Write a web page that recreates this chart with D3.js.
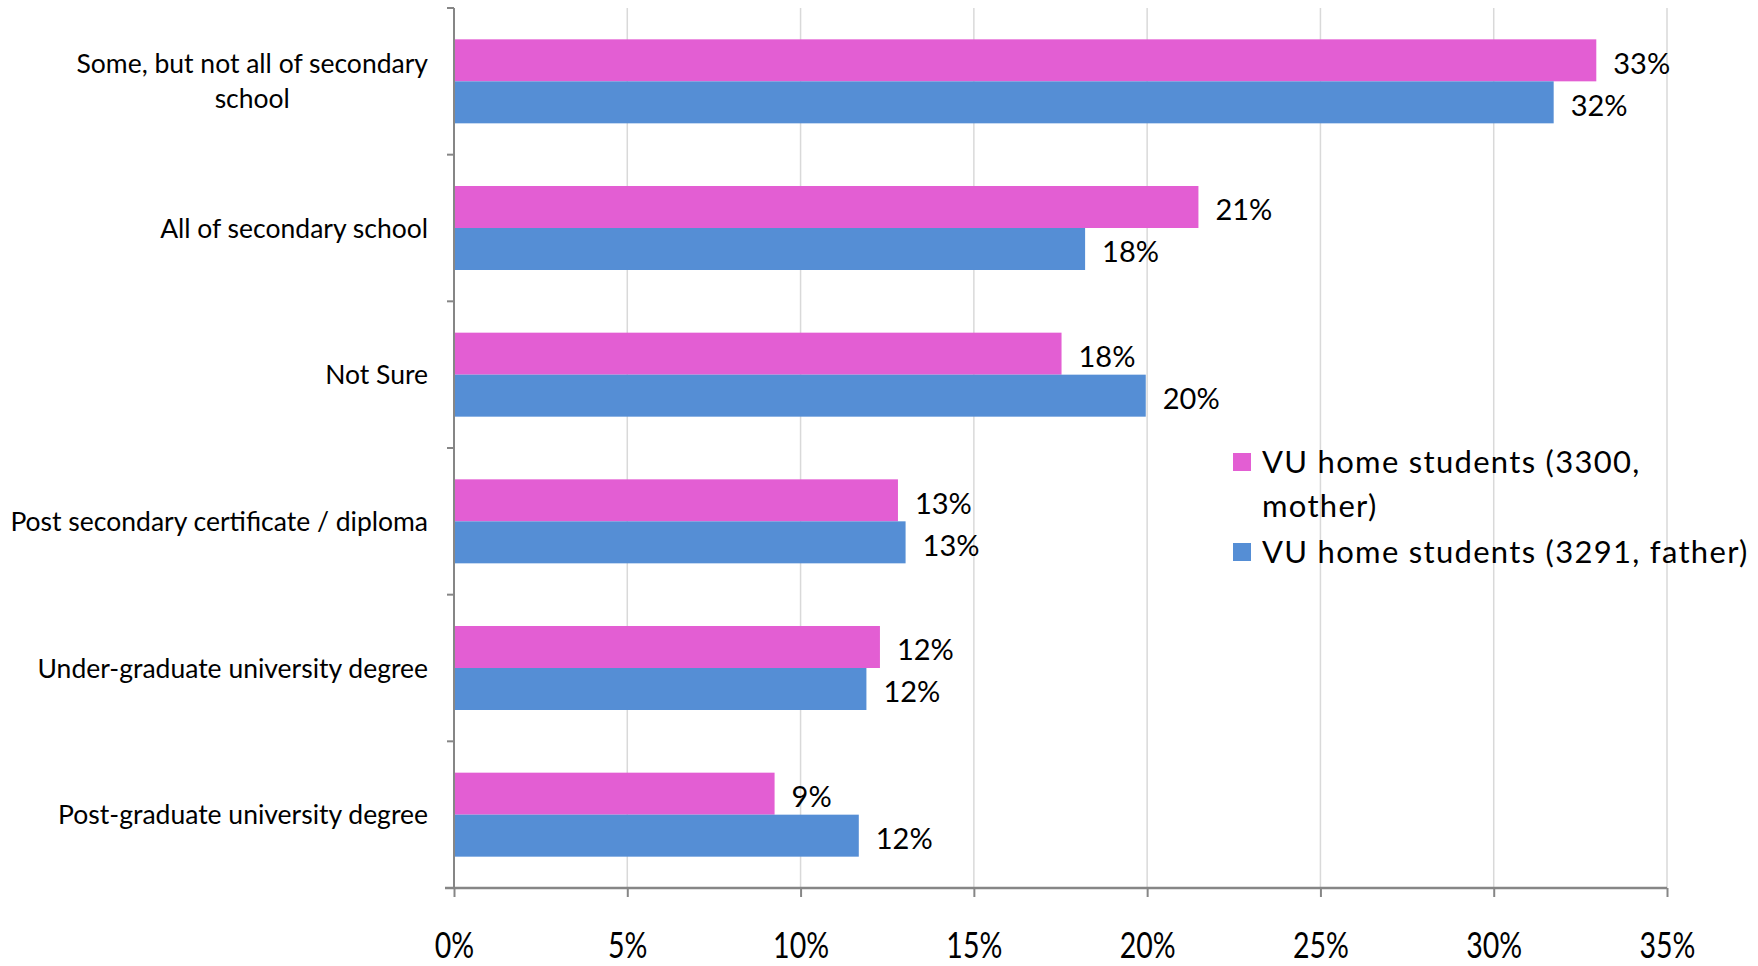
<!DOCTYPE html>
<html><head><meta charset="utf-8">
<script src="https://cdn.jsdelivr.net/npm/d3@7"></script>
<style>body{margin:0;background:#fff}svg{display:block;font-family:Lato,"Open Sans",sans-serif}</style>
</head><body><svg id="c" width="1758" height="966"></svg>
<script>
const categories = [
  ["Some, but not all of secondary", "school"],
  ["All of secondary school"],
  ["Not Sure"],
  ["Post secondary certificate / diploma"],
  ["Under-graduate university degree"],
  ["Post-graduate university degree"]
];
const motherValues = [32.96, 21.48, 17.53, 12.81, 12.29, 9.25];
const fatherValues = [31.73, 18.21, 19.96, 13.03, 11.90, 11.68];
const motherLabels = ["33%", "21%", "18%", "13%", "12%", "9%"];
const fatherLabels = ["32%", "18%", "20%", "13%", "12%", "12%"];
const seriesNames = [["VU home students (3300,", "mother)"], ["VU home students (3291, father)"]];
const xTicks = [0, 5, 10, 15, 20, 25, 30, 35];

(function () {
const colors = ["#E35ED3", "#558ED5"];
const svg = d3.select("#c");
const pl = 454, pr = 1667, pt = 8, pb = 888;

const x = d3.scaleLinear().domain([0, 35]).range([pl, pr]);
const y = d3.scaleBand().domain(d3.range(categories.length)).range([pt, pb]).paddingInner(0).paddingOuter(0);
const barH = 42;

// gridlines
svg.append("g").selectAll("line").data(xTicks.slice(1)).join("line")
  .attr("x1", d => x(d)).attr("x2", d => x(d)).attr("y1", pt).attr("y2", pb)
  .attr("stroke", "#d9d9d9").attr("stroke-width", 1.5);

// bars
const series = [motherValues, fatherValues];
const seriesLabels = [motherLabels, fatherLabels];
series.forEach((vals, s) => {
  const g = svg.append("g");
  g.selectAll("rect").data(vals).join("rect")
    .attr("x", x(0))
    .attr("y", (d, i) => y(i) + y.bandwidth() / 2 - barH + s * barH)
    .attr("width", d => x(d) - x(0))
    .attr("height", barH)
    .attr("fill", colors[s]);
  g.selectAll("text").data(vals).join("text")
    .attr("x", d => x(d) + 17)
    .attr("y", (d, i) => y(i) + y.bandwidth() / 2 - barH / 2 + s * barH + 3)
    .attr("dy", "0.36em")
    .attr("font-size", 29).attr("fill", "#000")
    .text((d, i) => seriesLabels[s][i]);
});

// left axis
svg.append("line").attr("x1", pl).attr("x2", pl).attr("y1", pt).attr("y2", pb)
  .attr("stroke", "#868686").attr("stroke-width", 2);
svg.append("g").selectAll("line").data(d3.range(categories.length + 1)).join("line")
  .attr("x1", pl - 7).attr("x2", pl)
  .attr("y1", d => pt + d * y.step()).attr("y2", d => pt + d * y.step())
  .attr("stroke", "#868686").attr("stroke-width", 2);

// bottom axis
const xAxis = d3.axisBottom(x).tickValues(xTicks).tickFormat(d => d + "%").tickSize(9).tickPadding(24);
const ax = svg.append("g").attr("transform", `translate(0,${pb})`).call(xAxis);
ax.select(".domain").attr("stroke", "#868686").attr("stroke-width", 2.5)
  .attr("d", `M${pl - 9},0H${pr}`);
ax.selectAll(".tick line").attr("stroke", "#868686").attr("stroke-width", 2);
ax.selectAll(".tick text").attr("font-size", 28).attr("font-family", "Lato").attr("fill", "#000")
  .attr("y", 0).attr("dy", "0.36em")
  .attr("transform", "translate(0,57) scale(1.02,1.28)");

// category labels
const labelRight = 428;
categories.forEach((lines, i) => {
  const cy = y(i) + y.bandwidth() / 2;
  const lh = 35;
  const g = svg.append("g");
  const texts = lines.map((t, k) => g.append("text")
    .attr("font-size", 26.5).attr("fill", "#000").attr("dy", "0.36em")
    .attr("y", cy + (k - (lines.length - 1) / 2) * lh).text(t));
  const maxW = d3.max(texts, t => t.node().getComputedTextLength());
  texts.forEach(t => t.attr("text-anchor", "middle").attr("x", labelRight - maxW / 2));
});

// legend
const lg = svg.append("g");
const legY = [462, 552];
seriesNames.forEach((lines, s) => {
  lg.append("rect").attr("x", 1233).attr("y", legY[s] - 9).attr("width", 18).attr("height", 18).attr("fill", colors[s]);
  lines.forEach((t, k) => lg.append("text").attr("x", 1262).attr("y", legY[s] + k * 44)
    .attr("dy", "0.36em").attr("font-size", 31).attr("letter-spacing", 1.3).attr("fill", "#000").text(t));
});
})();
</script></body></html>
